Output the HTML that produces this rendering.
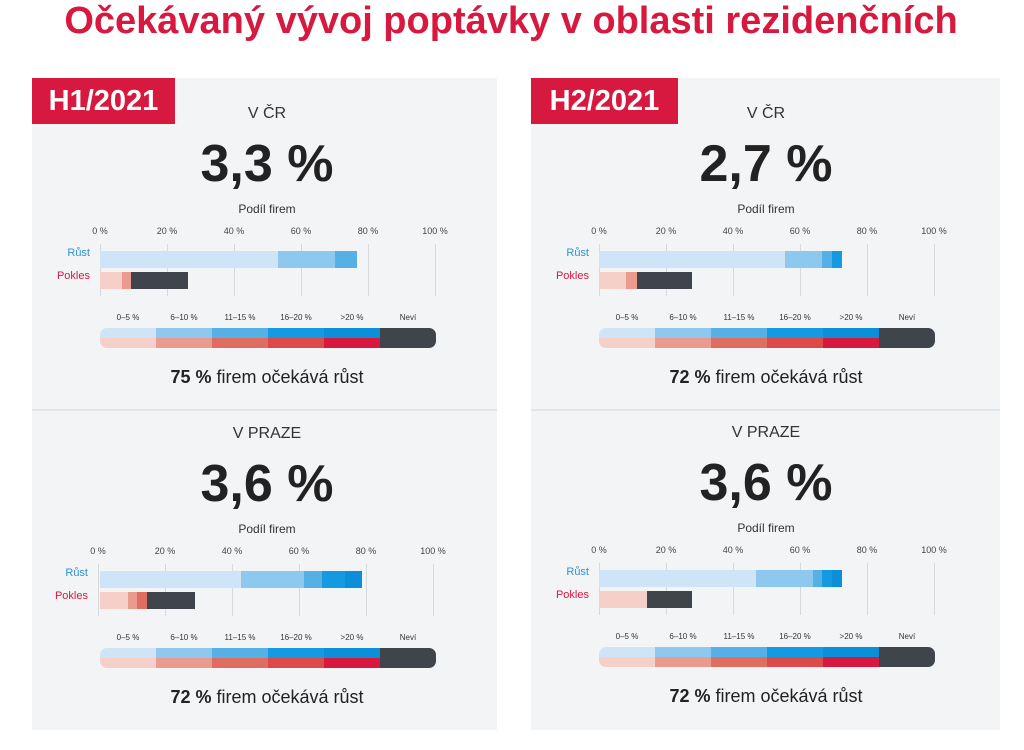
<!DOCTYPE html>
<html><head><meta charset="utf-8"><style>
body{margin:0;width:1024px;height:750px;background:#fff;position:relative;overflow:hidden;font-family:"Liberation Sans","DejaVu Sans",sans-serif}
.a{position:absolute}
.t{position:absolute;transform:translateX(-50%);white-space:nowrap;text-align:center}
.panel{position:absolute;background:#f3f4f6}
</style></head><body>
<div class="t" style="left:511px;top:0px;font-size:38px;font-weight:bold;color:#d7193f">Očekávaný vývoj poptávky v oblasti rezidenčních</div>
<div class="panel" style="left:32px;top:78px;width:465px;height:652px"></div>
<div class="panel" style="left:531px;top:78px;width:469px;height:652px"></div>
<div class="a" style="left:32px;top:409px;width:465px;height:2px;background:#e2e5ea"></div>
<div class="a" style="left:531px;top:409px;width:469px;height:2px;background:#e2e5ea"></div>
<div class="a" style="left:32px;top:78px;width:143px;height:46px;background:#d7193f;color:#fff;font-size:29px;font-weight:bold;line-height:46px;text-align:center">H1/2021</div>
<div class="a" style="left:531px;top:78px;width:147px;height:46px;background:#d7193f;color:#fff;font-size:29px;font-weight:bold;line-height:46px;text-align:center">H2/2021</div>
<div id="root"></div>
<script>
var R=document.getElementById('root'),h='';
function T(x,y,s,txt,st){h+='<div class="t" style="left:'+x+'px;top:'+y+'px;font-size:'+s+'px;'+(st||'')+'">'+txt+'</div>';}
function B(x,y,w,hh,c,st){h+='<div class="a" style="left:'+x+'px;top:'+y+'px;width:'+w+'px;height:'+hh+'px;background:'+c+';'+(st||'')+'"></div>';}
var P=[
 {x0:100,cx:267,y:0,head:'V ČR',num:'3,3 %',pct:'75',r:[[100,278,'#cfe5f7'],[278,335,'#8ec8ee'],[335,357,'#55b0e5']],p:[[100,122,'#f6cfc8'],[122,131,'#eb9a8e'],[131,188,'#3f454b']]},
 {x0:599,cx:766,y:0,head:'V ČR',num:'2,7 %',pct:'72',r:[[599,785,'#cfe5f7'],[785,822,'#8ec8ee'],[822,832,'#55b0e5'],[832,842,'#139ae0']],p:[[599,626,'#f6cfc8'],[626,637,'#eb9a8e'],[637,692,'#3f454b']]},
 {x0:98,cx:267,y:320,head:'V PRAZE',num:'3,6 %',pct:'72',r:[[100,241,'#cfe5f7'],[241,304,'#8ec8ee'],[304,322,'#55b0e5'],[322,345,'#139ae0'],[345,362,'#0a8fd8']],p:[[100,128,'#f6cfc8'],[128,137,'#eb9a8e'],[137,147,'#e06d62'],[147,195,'#3f454b']]},
 {x0:599,cx:766,y:319,head:'V PRAZE',num:'3,6 %',pct:'72',r:[[599,756,'#cfe5f7'],[756,813,'#8ec8ee'],[813,822,'#55b0e5'],[822,832,'#139ae0'],[832,842,'#0a8fd8']],p:[[599,647,'#f6cfc8'],[647,692,'#3f454b']]}
];
P.forEach(function(q){
 var y=q.y,x0=q.x0;
 T(q.cx,y+105,16,q.head,'color:#333');
 T(q.cx,y+133,52,q.num,'font-weight:bold;color:#222;line-height:62px');
 T(q.cx,y+202,12,'Podíl firem','color:#333');
 for(var i=0;i<6;i++){var gx=x0+i*67;T(gx,y+226,9,(i*20)+' %','color:#444');B(gx,y+244,1,52,'#d6d9de');}
 q.r.forEach(function(s){B(s[0],y+251,s[1]-s[0],17,s[2]);});
 q.p.forEach(function(s){B(s[0],y+272,s[1]-s[0],17,s[2]);});
 h+='<div class="a" style="left:'+(x0-40)+'px;top:'+(y+247)+'px;width:30px;text-align:right;font-size:11px;color:#2a93d5">Růst</div>';
 h+='<div class="a" style="left:'+(x0-60)+'px;top:'+(y+270)+'px;width:50px;text-align:right;font-size:11px;color:#d7193f">Pokles</div>';
 var L=['0–5 %','6–10 %','11–15 %','16–20 %','>20 %','Neví'],
 bl=['#cfe5f7','#8ec8ee','#55b0e5','#139ae0','#0a8fd8','#3f454b'],
 rd=['#f6cfc8','#eb9a8e','#e06d62','#dc4a4a','#d7193f','#3f454b'];
 var lx=q.x0<300?100:599;
 h+='<div class="a" style="left:'+lx+'px;top:'+(y+328)+'px;width:336px;height:20px;border-radius:7px;overflow:hidden">';
 for(var k=0;k<6;k++){h+='<div class="a" style="left:'+(k*56)+'px;top:0;width:56px;height:10px;background:'+bl[k]+'"></div><div class="a" style="left:'+(k*56)+'px;top:10px;width:56px;height:10px;background:'+rd[k]+'"></div>';}
 h+='</div>';
 for(var k=0;k<6;k++)T(lx+28+k*56,y+313,8,L[k],'color:#333');
 T(q.cx,y+367,18,'<b>'+q.pct+' %</b> firem očekává růst','color:#222');
});
R.innerHTML=h;
</script>
</body></html>
